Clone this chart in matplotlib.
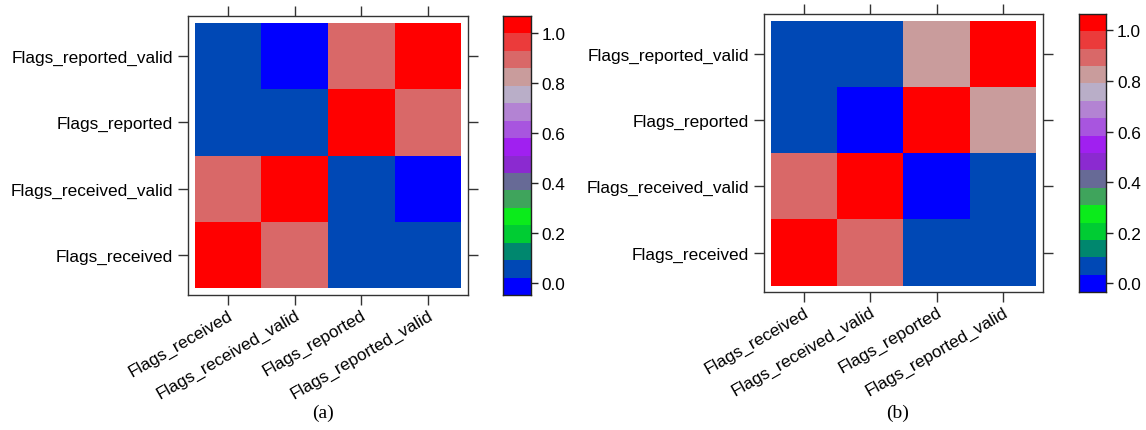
import numpy as np
import matplotlib
matplotlib.use("Agg")
import matplotlib.pyplot as plt
from matplotlib.colors import ListedColormap, BoundaryNorm

plt.rcParams['font.family'] = ['Liberation Sans', 'DejaVu Sans']

labels = ["Flags_received", "Flags_received_valid", "Flags_reported", "Flags_reported_valid"]

# rows from bottom (Flags_received) to top (Flags_reported_valid), columns in label order
corr_a = [
    [1.00, 0.89, 0.06, 0.06],
    [0.89, 1.00, 0.06, 0.00],
    [0.06, 0.06, 1.00, 0.89],
    [0.06, 0.00, 0.89, 1.00],
]
corr_b = [
    [1.00, 0.89, 0.06, 0.06],
    [0.89, 1.00, 0.00, 0.06],
    [0.06, 0.00, 1.00, 0.83],
    [0.06, 0.06, 0.83, 1.00],
]

# palette, lowest band first
palette = ["#0000FF", "#0048B5", "#00876E", "#00CC33", "#0BEB1B", "#3FA45C",
           "#676A96", "#8B2AD0", "#A020F0", "#A855DF", "#B383D3", "#B9AEC8",
           "#C99C9C", "#D96868", "#EB3B3B", "#FF0000"]
cmap = ListedColormap(palette)

cb_ticks = [0.0, 0.2, 0.4, 0.6, 0.8, 1.0]

fig = plt.figure(figsize=(11.46, 4.31), dpi=100)


def panel(data, ax_rect, cb_rect, lo, hi, caption, cap_x):
    bounds = np.linspace(lo, hi, len(palette) + 1)
    norm = BoundaryNorm(bounds, cmap.N)
    ax = fig.add_axes(ax_rect)
    n = len(labels)
    edges = np.arange(n + 1) + 0.5
    ax.pcolormesh(edges, edges, np.array(data), cmap=cmap, norm=norm)
    ax.set_xlim(0.4, n + 0.6)
    ax.set_ylim(0.4, n + 0.6)
    ax.set_xticks(np.arange(1, n + 1))
    ax.set_yticks(np.arange(1, n + 1))
    ax.set_xticklabels(labels, rotation=30, ha='right', va='top',
                       rotation_mode='anchor', fontsize=12.4)
    ax.set_yticklabels(labels, fontsize=12.4)
    ax.tick_params(direction='out', length=7, width=1, color='#333333',
                   top=True, right=True, pad=4)
    ax.tick_params(axis='x', pad=1.5)
    for s in ax.spines.values():
        s.set_linewidth(1)
        s.set_color('#333333')

    cax = fig.add_axes(cb_rect)
    for i, c in enumerate(palette):
        cax.axhspan(bounds[i], bounds[i + 1], color=c, lw=0)
    cax.set_ylim(lo, hi)
    cax.set_xlim(0, 1)
    cax.set_xticks([])
    cax.yaxis.tick_right()
    cax.set_yticks(cb_ticks)
    cax.set_yticklabels(["%.1f" % t for t in cb_ticks], fontsize=12.4)
    cax.tick_params(direction='out', length=5, width=1, color='#222222', pad=3)
    for s in cax.spines.values():
        s.set_linewidth(1)
        s.set_color('#222222')

    fig.text(cap_x, 0.042, caption, ha='center', va='center',
             family='Liberation Serif', fontsize=14)


panel(corr_a, [0.1641, 0.3132, 0.2441, 0.6473], [0.4392, 0.3132, 0.0239, 0.6473],
      -0.048, 1.068, "(a)", 0.2819)
panel(corr_b, [0.6667, 0.3195, 0.2432, 0.6457], [0.9415, 0.3195, 0.0236, 0.6464],
      -0.0356, 1.066, "(b)", 0.7836)

plt.savefig("out.png", dpi=100)
